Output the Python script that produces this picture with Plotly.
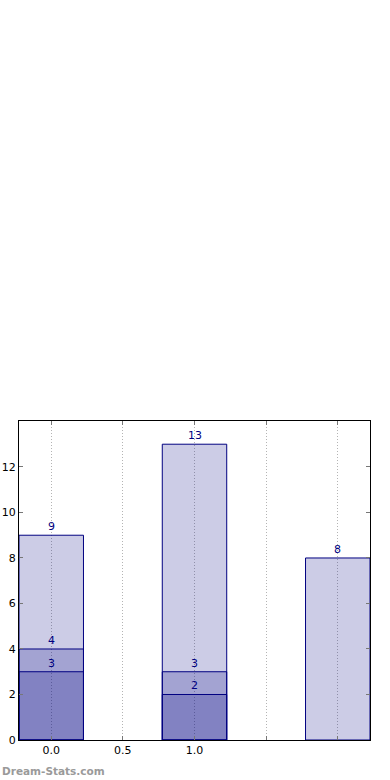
import plotly.graph_objects as go

x_a = [0, 1, 2]
vals_a = [9, 13, 8]
x_b = [0, 1]
vals_b = [4, 3]
x_c = [0, 1]
vals_c = [3, 2]

x_tickvals = [0, 0.5, 1.0, 1.5, 2.0]
x_ticktext = ["0.0", "0.5", "1.0", "", ""]
y_tickvals = [0, 2, 4, 6, 8, 10, 12]

fill = "rgba(0,0,128,0.2)"
edge = "#000080"
font = "DejaVu Sans"

fig = go.Figure()
for xs, vs in [(x_a, vals_a), (x_b, vals_b), (x_c, vals_c)]:
    fig.add_trace(go.Bar(x=xs, y=vs, width=0.45,
                         marker=dict(color=fill, line=dict(color=edge, width=1)),
                         showlegend=False, hoverinfo="skip"))
    for xv, v in zip(xs, vs):
        fig.add_annotation(x=xv, y=v, text=str(v), showarrow=False,
                           yanchor="bottom", yshift=0,
                           font=dict(family=font, size=11, color=edge))

fig.add_annotation(xref="paper", yref="paper", x=-0.054, y=-0.097,
                   xanchor="left", yanchor="middle", showarrow=False,
                   text="<b>Dream-Stats.com</b>",
                   font=dict(family=font, size=10.5, color="#9a9a9a"))

fig.update_layout(
    width=390, height=780,
    margin=dict(l=19, r=20, t=421, b=40, autoexpand=False),
    barmode="overlay",
    paper_bgcolor="white", plot_bgcolor="white",
    font=dict(family=font, size=11, color="black"),
    xaxis=dict(range=[-0.225, 2.225], tickvals=x_tickvals, ticktext=x_ticktext,
               showgrid=True, gridcolor="#b4b4b4", griddash="1px,2px", gridwidth=1,
               showline=True, linecolor="black", linewidth=1, mirror="ticks",
               ticks="inside", ticklen=4, tickcolor="#777777", zeroline=False,
               automargin=False),
    yaxis=dict(range=[0, 14.02], tickvals=y_tickvals,
               showgrid=False, showline=True, linecolor="black", linewidth=1,
               mirror="ticks", ticks="inside", ticklen=4, tickcolor="#777777",
               zeroline=False, automargin=False),
)

fig.write_html("out.html", config={"displayModeBar": False},
               post_script="document.body.style.margin='0';document.body.style.padding='0';")
